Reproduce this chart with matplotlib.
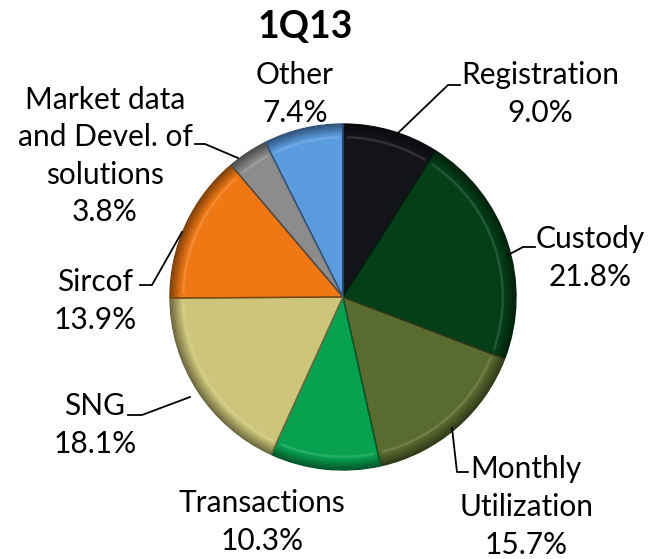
import matplotlib.pyplot as plt
from matplotlib.patches import Wedge
import numpy as np
import matplotlib.colors as mcolors

labels = ['Registration', 'Custody', 'Monthly\nUtilization', 'Transactions',
          'SNG', 'Sircof', 'Market data\nand Devel. of\nsolutions', 'Other']
shares = [9.0, 21.8, 15.7, 10.3, 18.1, 13.9, 3.8, 7.4]
colors = ['#12141a', '#043f18', '#5a6b30', '#07a150',
          '#cdc67a', '#ef7814', '#8c8c8c', '#5b9be0']

W, H = 656, 559
plt.rcParams['font.family'] = ['Lato', 'DejaVu Sans']

fig = plt.figure(figsize=(W / 100, H / 100), dpi=100)
ax = fig.add_axes([0, 0, 1, 1])

def py(y):
    # pixel row -> data y
    return H - y

cx, cy, R = 343, py(297), 173

wedges, _ = ax.pie(shares, colors=colors, startangle=90, counterclock=False,
                   radius=R, center=(cx, cy), frame=True,
                   wedgeprops=dict(edgecolor='none'))
ax.set_xlim(0, W)
ax.set_ylim(0, H)
ax.set_aspect('equal')
ax.axis('off')

# rough bevel: darken towards the rim, light line along the inner rim
for w, c in zip(wedges, colors):
    base = np.array(mcolors.to_rgb(c))
    t1, t2 = w.theta1, w.theta2
    for k in range(8):
        r_out = R - k * 1.4
        f = 1 - 0.06 * (8 - k)
        col = np.clip(base * f, 0, 1)
        ax.add_patch(Wedge((cx, cy), r_out, t1, t2, width=1.5,
                           facecolor=col, edgecolor='none', zorder=3))
    light = np.clip(base + (1 - base) * 0.25, 0, 1)
    ax.add_patch(Wedge((cx, cy), R - 12, t1 + 1.5, t2 - 1.5, width=2.5,
                       facecolor=light, edgecolor='none', alpha=0.5, zorder=3))
    ax.add_patch(Wedge((cx, cy), R, t1, t2, facecolor='none',
                       edgecolor=np.clip(base * 0.55, 0, 1), lw=1.0, zorder=4))

fs = 21.5
ax.text(305, py(27), '1Q13', ha='center', va='center', fontsize=27,
        fontweight='bold')

texts = [
    ('Registration\n9.0%', 540, 94),
    ('Custody\n21.8%', 590, 258),
    ('Monthly\nUtilization\n15.7%', 526, 507),
    ('Transactions\n10.3%', 262, 522),
    ('SNG\n18.1%', 95, 425),
    ('Sircof\n13.9%', 95, 301),
    ('Market data\nand Devel. of\nsolutions\n3.8%', 105, 156),
    ('Other\n7.4%', 295, 94),
]
for s, x, y in texts:
    ax.text(x, py(y), s, ha='center', va='center', fontsize=fs,
            linespacing=1.42)

leaders = [
    [(398, 133), (448, 85), (460, 85)],
    [(508, 255), (523, 247), (535, 247)],
    [(452, 428), (457, 472), (468, 472)],
    [(190, 397), (142, 415), (128, 415)],
    [(182, 232), (152, 285), (140, 285)],
    [(238, 158), (205, 144), (195, 144)],
]
for pts in leaders:
    xs = [p[0] for p in pts]
    ys = [py(p[1]) for p in pts]
    ax.plot(xs, ys, color='black', lw=1.3, zorder=5)

fig.savefig('out.png', dpi=100)
